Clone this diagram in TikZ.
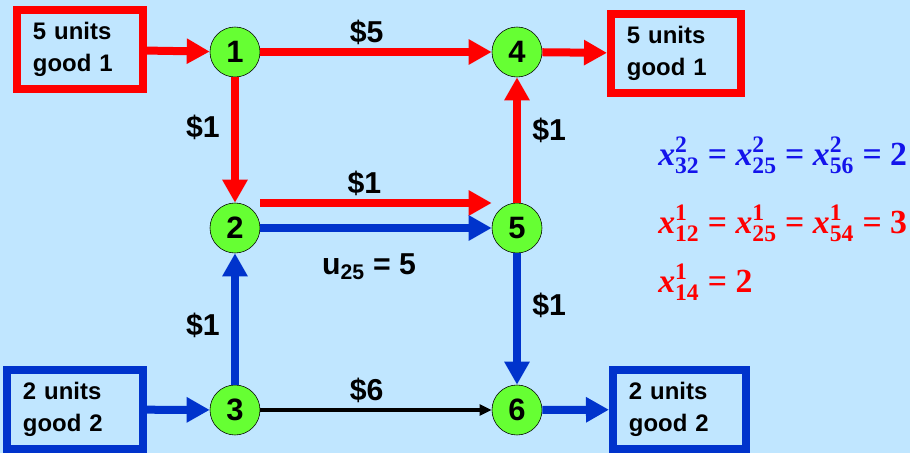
\documentclass[tikz,border=0pt]{standalone}
\usepackage{fontspec}
\setmainfont{Liberation Serif}
\setsansfont{Liberation Sans}
\usepackage{amsmath}
\usetikzlibrary{arrows.meta,positioning}
\definecolor{bgblue}{RGB}{192,230,255}
\definecolor{flowred}{RGB}{255,0,0}
\definecolor{flowblue}{RGB}{0,51,204}
\definecolor{eqblue}{RGB}{20,20,235}
\definecolor{nodegreen}{RGB}{102,255,51}
\newcommand{\xflow}[2]{\text{\bfseries\itshape x}^{\text{\bfseries #1}}_{\text{\bfseries #2}}}
\newcommand{\eqs}{\text{\bfseries\hspace{0.25em}=\hspace{0.25em}}}

\begin{document}
\begin{tikzpicture}[x=0.025cm,y=-0.025cm,
    vertex/.style={circle,draw=black,thin,fill=nodegreen,minimum size=1.25cm,inner sep=0pt,
        font=\sffamily\bfseries\fontsize{22}{22}\selectfont},
    supply/.style={draw,line width=0.2cm,inner xsep=0.4cm,minimum height=1.98cm,align=left,
        font=\sffamily\bfseries\fontsize{17}{22.5}\selectfont},
    cost/.style={text=black,font=\sffamily\bfseries\fontsize{21.5}{21.5}\selectfont,inner sep=2pt},
    redflow/.style={flowred,line width=0.2cm,-{Triangle[length=0.575cm,width=0.6cm]}},
    blueflow/.style={flowblue,line width=0.2cm,-{Triangle[length=0.575cm,width=0.6cm]}},
    plain/.style={black,line width=0.09cm,-{Triangle[length=0.3cm,width=0.27cm]}},
    flowtext/.style={anchor=base west,inner sep=0pt,font=\bfseries\fontsize{24}{24}\selectfont}]
  \path[use as bounding box,fill=bgblue] (0,0) rectangle (910,453);

  % nodes of the network
  \node[vertex] (n1) at (235,52) {1};
  \node[vertex] (n4) at (517,52) {4};
  \node[vertex] (n2) at (235,228) {2};
  \node[vertex] (n5) at (517,228) {5};
  \node[vertex] (n3) at (235,410) {3};
  \node[vertex] (n6) at (517,410) {6};

  % supplies and demands
  \node[supply,draw=flowred,text width=2.35cm] (s1) at (80,49.5) {5 units\\good 1};
  \node[supply,draw=flowred,text width=2.45cm] (d1) at (676,53.5) {5 units\\good 1};
  \node[supply,draw=flowblue,text width=2.6cm] (s2) at (75,409.5) {2 units\\good 2};
  \node[supply,draw=flowblue,text width=2.525cm] (d2) at (679.5,409.5) {2 units\\good 2};

  % good 1
  \draw[redflow] (s1) -- (n1);
  \draw[redflow] (n1) -- node[cost,above,pos=0.46] {\$5} (n4);
  \draw[redflow] (n4) -- (d1);
  \draw[redflow] (n1) -- node[cost,left=6pt,pos=0.4] {\$1} (n2);
  \draw[redflow] (n5) -- node[cost,right=6pt,pos=0.58] {\$1} (n4);
  \draw[redflow] ([yshift=0.625cm]n2.east) -- node[cost,above,pos=0.45] {\$1} ([yshift=0.625cm]n5.west);

  % good 2
  \draw[blueflow] (s2) -- (n3);
  \draw[blueflow] (n3) -- node[cost,left=6pt,pos=0.45] {\$1} (n2);
  \draw[blueflow] (n2) -- node[cost,below=0.48cm,pos=0.47] {u\textsubscript{25} = 5} (n5);
  \draw[blueflow] (n5) -- node[cost,right=6pt,pos=0.4] {\$1} (n6);
  \draw[blueflow] (n6) -- (d2);
  \draw[plain] (n3) -- node[cost,above=2pt,pos=0.46] {\$6} (n6);

  % flows
  \node[flowtext,text=eqblue] (f2) at (658,165)
    {$\xflow{2}{32}\eqs\xflow{2}{25}\eqs\xflow{2}{56}\eqs\text{\bfseries 2}$};
  \node[flowtext,text=flowred] (f1) at (658,233)
    {$\xflow{1}{12}\eqs\xflow{1}{25}\eqs\xflow{1}{54}\eqs\text{\bfseries 3}$};
  \node[flowtext,text=flowred] (f14) at (658,292)
    {$\xflow{1}{14}\eqs\text{\bfseries 2}$};
\end{tikzpicture}
\end{document}
